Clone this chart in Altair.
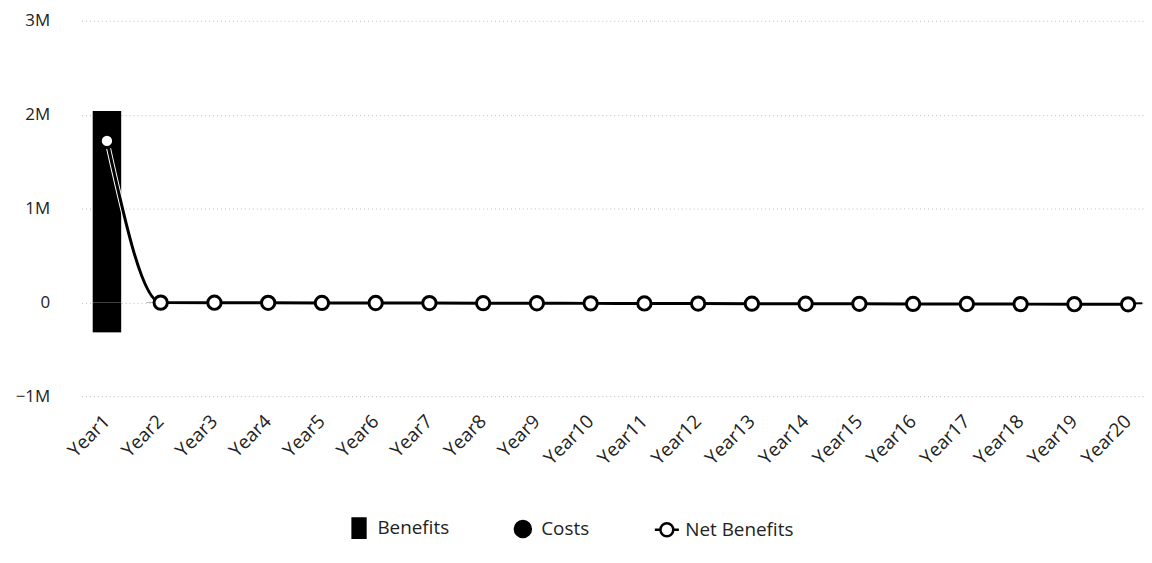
import altair as alt
import pandas as pd

years = [f"Year{i}" for i in range(1, 21)]
benefits = [2040000] + [0] * 19
costs = [-320000, -3000, -4000, -5000, -6000, -7000, -8000, -9000, -10000, -11000,
         -12000, -13000, -14000, -15000, -16000, -17000, -18000, -19000, -20000, -21000]
net = [b + c for b, c in zip(benefits, costs)]
series = ["Benefits", "Costs", "Net Benefits"]

bars = pd.DataFrame({
    "Year": years * 2,
    "type": ["Benefits"] * 20 + ["Costs"] * 20,
    "value": benefits + costs,
})
lines = pd.DataFrame({"Year": years, "net": net})
legend_df = pd.DataFrame({"type": series})

FONT = "Open Sans"
x_enc = alt.X("Year:N", sort=years, title=None,
              scale=alt.Scale(paddingInner=0.47, paddingOuter=0.12, align=0.87),
              axis=alt.Axis(labelAngle=-45, labelFontSize=19, labelColor="#222",
                            labelFont=FONT, domain=False, ticks=False, grid=False,
                            labelPadding=22, labelBaseline="middle"))
y_scale = alt.Scale(domain=[-1000000, 3000000], nice=False)

bar_layer = alt.Chart(bars).mark_bar(color="black").encode(
    x=x_enc,
    y=alt.Y("value:Q", scale=y_scale, title=None, stack="zero",
            axis=alt.Axis(values=[-1000000, 0, 1000000, 2000000, 3000000],
                          labelExpr="datum.value == 0 ? '0' : format(datum.value, '~s')",
                          labelFontSize=17, labelColor="#222", labelFont=FONT,
                          domain=False, ticks=False, labelPadding=32, minExtent=74,
                          gridColor="#bbbbbb", gridDash=[1, 3], gridWidth=1)),
    detail="type:N",
)

halo_layer = alt.Chart(lines).mark_line(
    interpolate="monotone", color="white", strokeWidth=5,
).encode(
    x=alt.X("Year:N", sort=years),
    y=alt.Y("net:Q", scale=y_scale),
)

line_layer = alt.Chart(lines).mark_line(
    interpolate="monotone", color="black", strokeWidth=3,
    point=alt.OverlayMarkDef(filled=True, fill="white", stroke="black", strokeWidth=3, size=180, opacity=1),
).encode(
    x=alt.X("Year:N", sort=years),
    y=alt.Y("net:Q", scale=y_scale),
)

benefit_path = "M-0.8,-1.2H0.8V1.2H-0.8Z"
net_path = "M-1.5,0H-0.8M0.8,0H1.5M-0.8,0A0.8,0.8,0,1,0,0.8,0A0.8,0.8,0,1,0,-0.8,0Z"
leg = alt.Legend(title=None, orient="none", direction="horizontal",
                 legendX=270, legendY=501, labelFontSize=19,
                 labelFont=FONT, labelColor="#222", symbolSize=260,
                 columnPadding=60, labelOffset=9, symbolOpacity=1,
                 symbolStrokeWidth=2.5)

legend_layer = alt.Chart(legend_df).mark_point(filled=True, opacity=0).encode(
    fill=alt.Fill("type:N", scale=alt.Scale(domain=series, range=["black", "black", "white"]), legend=leg),
    stroke=alt.Stroke("type:N", scale=alt.Scale(domain=series, range=["black", "black", "black"]), legend=leg),
    shape=alt.Shape("type:N", scale=alt.Scale(domain=series, range=[benefit_path, "circle", net_path]), legend=leg),
)

chart = alt.layer(bar_layer, halo_layer, line_layer, legend_layer).properties(
    width=1070, height=378,
    padding={"left": 0, "top": 2, "right": 0, "bottom": 5},
).configure(background="white").configure_view(stroke=None)

chart.save("out.html", embed_options={"renderer": "svg", "actions": False})
